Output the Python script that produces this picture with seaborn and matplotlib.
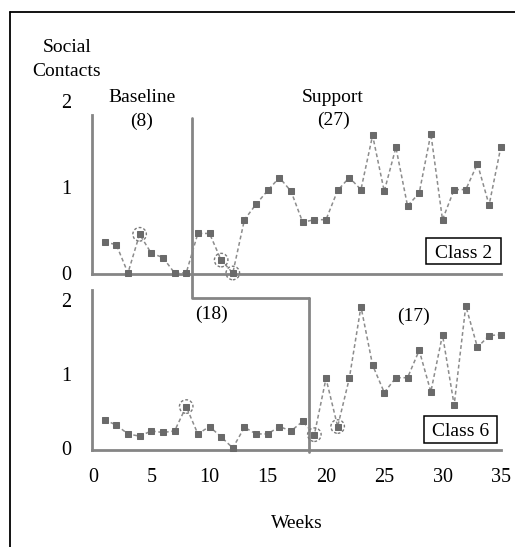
import matplotlib
matplotlib.use("Agg")
import matplotlib.pyplot as plt
import seaborn as sns
import pandas as pd
from matplotlib.lines import Line2D
from matplotlib.patches import Rectangle

# ---------------- data ----------------
weeks = list(range(1, 36))
class2_contacts = [0.36, 0.33, 0.00, 0.45, 0.23, 0.18, 0.00, 0.00,
                   0.46, 0.46, 0.15, 0.00, 0.62, 0.80, 0.96, 1.11, 0.95, 0.59,
                   0.62, 0.62, 0.96, 1.11, 0.97, 1.60, 0.95, 1.46, 0.78, 0.93,
                   1.62, 0.62, 0.97, 0.97, 1.27, 0.79, 1.46]
class6_contacts = [0.38, 0.31, 0.19, 0.16, 0.23, 0.21, 0.23, 0.56, 0.19,
                   0.29, 0.15, 0.00, 0.28, 0.19, 0.19, 0.29, 0.23, 0.36,
                   0.18, 0.94, 0.29, 0.94, 1.91, 1.12, 0.75, 0.95, 0.95, 1.32,
                   0.76, 1.53, 0.58, 1.92, 1.36, 1.52, 1.53]
class2_baseline_n = 8
class6_baseline_n = 18
class2_circled = [4, 11, 12]
class6_circled = [8, 19, 21]
y_ticks = [0, 1, 2]
x_ticks = [0, 5, 10, 15, 20, 25, 30, 35]
phase_names = ["Baseline", "Support"]
class_names = ["Class 2", "Class 6"]

df2 = pd.DataFrame({"week": weeks, "contacts": class2_contacts})
df6 = pd.DataFrame({"week": weeks, "contacts": class6_contacts})

# ---------------- style ----------------
sns.set_theme(style="white")
plt.rcParams["font.family"] = ["Liberation Serif", "DejaVu Serif"]

W, H = 515, 547
fig = plt.figure(figsize=(W / 100, H / 100), dpi=100)

AX_GRAY = "#858585"
LINE_GRAY = "#8c8c8c"
MARK_GRAY = "#6a6a6a"
FS = 14


def px_axes(l, t, r, b):
    return fig.add_axes([l / W, 1 - b / H, (r - l) / W, (b - t) / H])


def ftext(x, y, s, **kw):
    fig.text(x / W, 1 - y / H, s, fontsize=kw.pop("fontsize", FS),
             ha=kw.pop("ha", "center"), va=kw.pop("va", "baseline"),
             color="black", **kw)


ax1 = px_axes(92, 90, 501, 274)
ax2 = px_axes(92, 290, 501, 450)

px_per_week = 11.65
xlim = (-1 / px_per_week, (501 - 93) / px_per_week)

# y scales (0 position and pixels per unit)
ax1.set_ylim(-1 / 86, (273 - 90) / 86)
ax2.set_ylim(-2 / 74, (448 - 290) / 74)

for ax, df, circ in [(ax1, df2, class2_circled), (ax2, df6, class6_circled)]:
    ax.set_xlim(*xlim)
    sns.lineplot(data=df, x="week", y="contacts", ax=ax, color=LINE_GRAY,
                 linestyle=(0, (2.5, 1.8)), lw=1.1, marker="s", markersize=4.5,
                 markerfacecolor=MARK_GRAY, markeredgecolor=MARK_GRAY,
                 clip_on=False, zorder=3)
    cdf = df[df["week"].isin(circ)]
    ax.scatter(cdf["week"], cdf["contacts"], s=95, facecolors="none",
               edgecolors="#7a7a7a", linestyle=(0, (2, 1.5)), lw=1.0,
               clip_on=False, zorder=4)
    for s in ["top", "right"]:
        ax.spines[s].set_visible(False)
    for s in ["left", "bottom"]:
        ax.spines[s].set_color(AX_GRAY)
        ax.spines[s].set_linewidth(2.0)
    ax.set_yticks(y_ticks)
    ax.set_xticks(x_ticks)
    ax.tick_params(axis="y", length=0, pad=15, labelsize=14.5, colors="black")
    ax.tick_params(axis="x", length=0, pad=13, labelsize=14.5, colors="black")
    ax.set_ylabel("")
    ax.set_xlabel("")
    ax.grid(False)
    ax.patch.set_alpha(0)

ax1.tick_params(axis="x", labelbottom=False)
ax1.spines["left"].set_bounds(ax1.get_ylim()[0], (273 - 115) / 86)

# phase change line (stepped)
xb2 = class2_baseline_n + 0.5
xb6 = class6_baseline_n + 0.5
ax1.plot([xb2, xb2, xb6], [(273 - 118) / 86, (273 - 298) / 86, (273 - 298) / 86],
         color=AX_GRAY, lw=2.0, clip_on=False, zorder=2)
ax2.plot([xb6, xb6], [(448 - 298) / 74, (448 - 452) / 74],
         color=AX_GRAY, lw=2.0, clip_on=False, zorder=2)

ax2.set_xlabel("Weeks", fontsize=FS, labelpad=20, color="black")

# texts
ftext(67, 52, "Social")
ftext(67, 76, "Contacts")
ftext(142, 102, phase_names[0])
ftext(142, 126, f"({class2_baseline_n})")
ftext(333, 102, phase_names[1])
ftext(333, 125, f"({len(weeks) - class2_baseline_n})")
ftext(212, 319, f"({class6_baseline_n})")
ftext(413, 321, f"({len(weeks) - class6_baseline_n})")

# class boxes
for (l, t, r, b), name in [((426, 238, 501, 264), class_names[0]),
                            ((424, 416, 497, 443), class_names[1])]:
    fig.add_artist(Rectangle((l / W, 1 - b / H), (r - l) / W, (b - t) / H,
                             transform=fig.transFigure, fill=False,
                             ec="black", lw=1.1))
    fig.text((l + r) / 2 / W, 1 - ((t + b) / 2) / H, name, fontsize=FS,
             ha="center", va="center_baseline", color="black")

# outer frame (partial)
fig.add_artist(Line2D([10 / W, 10 / W], [0, 1 - 12 / H], color="black", lw=1.3,
                      transform=fig.transFigure))
fig.add_artist(Line2D([10 / W, 1], [1 - 12 / H, 1 - 12 / H], color="black",
                      lw=1.3, transform=fig.transFigure))

fig.savefig("out.png", dpi=100)
